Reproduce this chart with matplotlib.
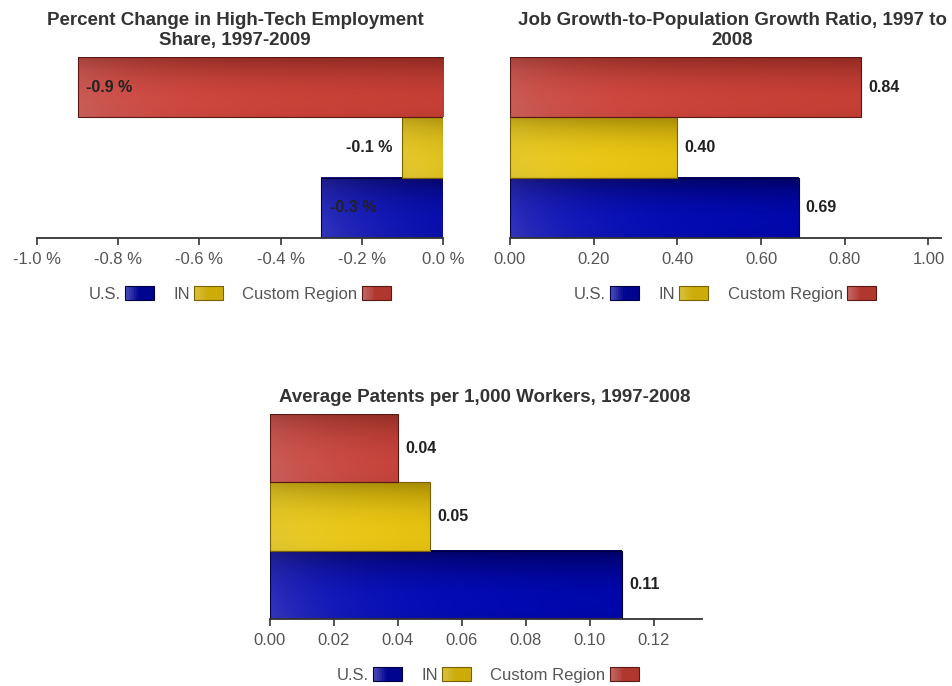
import numpy as np
import matplotlib
matplotlib.use("Agg")
import matplotlib.pyplot as plt
from matplotlib.patches import Rectangle, Patch
from matplotlib.legend_handler import HandlerBase

plt.rcParams['font.family'] = ['Liberation Sans', 'DejaVu Sans']

# ---------------- data ----------------
regions = ["U.S.", "IN", "Custom Region"]
hightech_change = [-0.3, -0.1, -0.9]          # percent
job_pop_ratio = [0.69, 0.40, 0.84]
patents_per_1000 = [0.11, 0.05, 0.04]

title1 = "Percent Change in High-Tech Employment\nShare, 1997-2009"
title2 = "Job Growth-to-Population Growth Ratio, 1997 to\n2008"
title3 = "Average Patents per 1,000 Workers, 1997-2008"

ticks1 = [-1.0, -0.8, -0.6, -0.4, -0.2, 0.0]
ticklabels1 = ["-1.0 %", "-0.8 %", "-0.6 %", "-0.4 %", "-0.2 %", "0.0 %"]
ticks2 = [0.0, 0.2, 0.4, 0.6, 0.8, 1.0]
ticklabels2 = ["0.00", "0.20", "0.40", "0.60", "0.80", "1.00"]
ticks3 = [0.0, 0.02, 0.04, 0.06, 0.08, 0.10, 0.12]
ticklabels3 = ["0.00", "0.02", "0.04", "0.06", "0.08", "0.10", "0.12"]

# ---------------- styles ----------------
# (dark top, bright centre, light left, edge)
palette = {
    "U.S.": ("#000058", "#0008bc", "#4a4ab8", "#000040"),
    "IN": ("#9a8000", "#f6d010", "#d6c040", "#7a6000"),
    "Custom Region": ("#86261e", "#d2443a", "#c46a68", "#5a1812"),
}

W, H, DPI = 952, 686, 100
fig = plt.figure(figsize=(W / DPI, H / DPI), dpi=DPI)


def hex2rgb(h):
    return np.array(matplotlib.colors.to_rgb(h))


def gradient_img(region, wpx, hpx):
    dark, bright, light, _ = [hex2rgb(c) for c in palette[region]]
    nx, ny = max(int(wpx), 2), max(int(hpx), 2)
    xs = np.arange(nx)[None, :]
    ur = np.linspace(0, 1, nx)[None, :]
    v = np.linspace(1, 0, ny)[:, None]            # row 0 = top
    g = np.clip(1 - ((v - 0.25) / 0.80) ** 2, 0, 1) * (1 - 0.18 * ur)
    base = dark[None, None, :] * (1 - g[..., None]) + bright[None, None, :] * g[..., None]
    base = np.broadcast_to(base, (ny, nx, 3)).copy()
    w = 0.7 * np.exp(-xs / 75.0) * (0.55 + 0.45 * (1 - v))
    w = np.broadcast_to(w, (ny, nx))[..., None]
    img = base * (1 - w) + light[None, None, :] * w
    return np.clip(img, 0, 1)


def make_axes(left_px, top_px, right_px, bottom_px):
    return fig.add_axes([left_px / W, 1 - bottom_px / H,
                         (right_px - left_px) / W, (bottom_px - top_px) / H])


def draw_chart(ax, values, xlim, ticks, ticklabels, axw_px, axh_px):
    span = xlim[1] - xlim[0]
    for i, (reg, val) in enumerate(zip(regions, values)):
        x0, x1 = min(0, val), max(0, val)
        y0, y1 = i - 0.5, i + 0.5
        wpx = (x1 - x0) / span * axw_px
        hpx = axh_px / 3
        ax.imshow(gradient_img(reg, wpx, hpx), extent=[x0, x1, y0, y1],
                  aspect='auto', interpolation='bilinear', zorder=2)
        ax.add_patch(Rectangle((x0, y0), x1 - x0, 1, fill=False,
                               edgecolor=palette[reg][3], linewidth=0.8, zorder=3))
    ax.set_xlim(*xlim)
    ax.set_ylim(-0.5, 2.5)
    ax.set_yticks([])
    for s in ["left", "right", "top"]:
        ax.spines[s].set_visible(False)
    ax.spines["bottom"].set_color("#333333")
    ax.spines["bottom"].set_linewidth(1.3)
    ax.spines["bottom"].set_zorder(4)
    ax.set_xticks(ticks)
    ax.set_xticklabels(ticklabels)
    ax.tick_params(axis='x', direction='out', length=5, width=1.2, color="#333333",
                   labelsize=12, labelcolor="#555555", pad=5)
    ax.set_facecolor("none")


class GradientHandler(HandlerBase):
    def __init__(self, region):
        super().__init__()
        self.region = region

    def create_artists(self, legend, orig_handle, xdescent, ydescent, width, height,
                       fontsize, trans):
        dark, bright, light, edge = palette[self.region]
        c_light, c_base = hex2rgb(light), hex2rgb(bright) * 0.55 + hex2rgb(dark) * 0.45
        n = 16
        arts = []
        for k in range(n):
            t = min(1.0, k / (n * 0.45))
            col = c_light * (1 - t) + c_base * t
            arts.append(Rectangle((-xdescent + k * width / n, -ydescent), width / n + 0.3,
                                  height, facecolor=col, edgecolor='none', transform=trans))
        arts.append(Rectangle((-xdescent, -ydescent), width, height, fill=False,
                              edgecolor=edge, linewidth=0.8, transform=trans))
        return arts


def add_legend(ax, xc_px, yc_px):
    handles = [Patch(label=r) for r in regions]
    hmap = {h: GradientHandler(r) for h, r in zip(handles, regions)}
    ax.legend(handles=handles, labels=regions, handler_map=hmap, loc='center',
              bbox_to_anchor=(xc_px / W, 1 - yc_px / H), bbox_transform=fig.transFigure,
              ncol=3, frameon=False, markerfirst=False, fontsize=12,
              handlelength=1.75, handleheight=0.9, handletextpad=0.24,
              columnspacing=1.15, labelcolor="#555555")


def add_title(text, xc_px, ybottom_px):
    fig.text(xc_px / W, 1 - ybottom_px / H, text, ha='center', va='bottom',
             fontsize=13.5, fontweight='bold', color="#333333", linespacing=1.25)


lab_kw = dict(fontsize=11.5, fontweight='bold', color="#222222", va='center',
              textcoords='offset points', zorder=5)

# ---------------- chart 1 ----------------
ax1 = make_axes(37, 57, 443, 238)
draw_chart(ax1, hightech_change, (-1.0, 0.0), ticks1, ticklabels1, 406, 181)
for i, val in enumerate(hightech_change):
    txt = f"{val:.1f} %"
    if abs(val) >= 0.2:
        ax1.annotate(txt, (val, i), xytext=(6, 0), ha='left', **lab_kw)
    else:
        ax1.annotate(txt, (val, i), xytext=(-7, 0), ha='right', **lab_kw)
add_title(title1, 235, 49)
add_legend(ax1, 240, 294)

# ---------------- chart 2 ----------------
ax2 = make_axes(510, 57, 941, 238)
draw_chart(ax2, job_pop_ratio, (0.0, 1.03), ticks2, ticklabels2, 431, 181)
for i, val in enumerate(job_pop_ratio):
    ax2.annotate(f"{val:.2f}", (val, i), xytext=(5, 0), ha='left', **lab_kw)
add_title(title2, 732, 49)
add_legend(ax2, 725, 294)

# ---------------- chart 3 ----------------
ax3 = make_axes(270, 414, 702, 619)
draw_chart(ax3, patents_per_1000, (0.0, 0.135), ticks3, ticklabels3, 432, 205)
for i, val in enumerate(patents_per_1000):
    ax3.annotate(f"{val:.2f}", (val, i), xytext=(5, 0), ha='left', **lab_kw)
add_title(title3, 485, 406)
add_legend(ax3, 488, 675)

fig.savefig("out.png", dpi=DPI, facecolor="white")
